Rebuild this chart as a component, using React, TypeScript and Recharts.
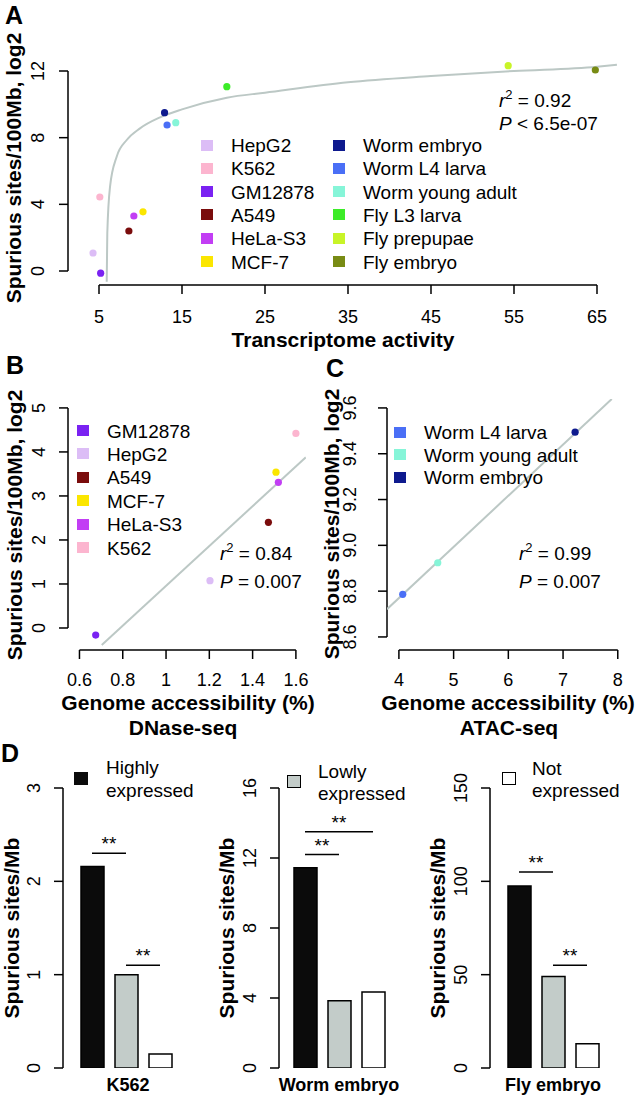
import React from 'react';
import { ComposedChart, BarChart, Bar, Scatter, Line, XAxis, YAxis, ReferenceLine, Cell } from 'recharts';

const FONT = '"Liberation Sans", Arial, Helvetica, sans-serif';
const INK = '#000';
const FIT = '#bcc8c5';

// colours per sample
const sampleColors: Record<string, string> = {
  HepG2: '#dcbdf6',
  K562: '#fcb5cf',
  GM12878: '#7a22f2',
  A549: '#7a0c0c',
  'HeLa-S3': '#c23ef4',
  'MCF-7': '#fbe600',
  'Worm embryo': '#0e1a8e',
  'Worm L4 larva': '#4a6ff6',
  'Worm young adult': '#86f5d8',
  'Fly L3 larva': '#3cec28',
  'Fly prepupae': '#c8f428',
  'Fly embryo': '#788b14',
};

// A: transcriptome activity vs spurious sites
const samplesA = ['HepG2', 'K562', 'GM12878', 'A549', 'HeLa-S3', 'MCF-7',
  'Worm embryo', 'Worm L4 larva', 'Worm young adult', 'Fly L3 larva', 'Fly prepupae', 'Fly embryo'];
const activityA = [4.28, 5.1, 5.2, 8.6, 9.2, 10.3, 12.9, 13.2, 14.25, 20.4, 54.3, 64.8];
const sitesA = [1.08, 4.44, -0.13, 2.4, 3.3, 3.55, 9.5, 8.76, 8.9, 11.06, 12.32, 12.06];
const curveActivity = [5.93, 6.0, 6.33, 7.13, 8.34, 9.94, 12.35, 15, 20.4, 25, 35, 45, 55, 65, 67.4];
const curveSites = [-0.64, 2.26, 5.06, 6.86, 7.86, 8.56, 9.22, 9.7, 10.4, 10.7, 11.33, 11.7, 12.0, 12.26, 12.38];
const ticksAx = [5, 15, 25, 35, 45, 55, 65];
const ticksAy = [0, 4, 8, 12];

// B: DNase-seq
const samplesB = ['GM12878', 'HepG2', 'A549', 'MCF-7', 'HeLa-S3', 'K562'];
const accessB = [0.675, 1.203, 1.473, 1.508, 1.519, 1.6];
const sitesB = [-0.16, 1.075, 2.4, 3.54, 3.31, 4.42];
const fitBx = [0.703, 1.646];
const fitBy = [-0.386, 3.88];
const ticksBx = [0.6, 0.8, 1, 1.2, 1.4, 1.6];
const ticksBy = [0, 1, 2, 3, 4, 5];

// C: ATAC-seq
const samplesC = ['Worm L4 larva', 'Worm young adult', 'Worm embryo'];
const accessC = [4.07, 4.71, 7.22];
const sitesC = [8.786, 8.924, 9.494];
const fitCx = [3.7825, 7.89];
const fitCy = [8.721, 9.639];
const ticksCx = [4, 5, 6, 7, 8];
const ticksCy = [8.6, 8.8, 9.0, 9.2, 9.4, 9.6];

// D: expression level groups
const levels = ['Highly', 'Lowly', 'Not'];
const levelFills = ['#0b0b0b', '#c3ccc9', '#ffffff'];
const k562Sites = [2.16, 1.0, 0.15];
const wormSites = [11.45, 3.85, 4.35];
const flySites = [97.5, 49, 13];

const pointsA = samplesA.map((name, i) => ({ name, x: activityA[i], y: sitesA[i] }));
const curveA = curveActivity.map((x, i) => ({ x, y: curveSites[i] }));
const pointsB = samplesB.map((name, i) => ({ name, x: accessB[i], y: sitesB[i] }));
const lineB = fitBx.map((x, i) => ({ x, y: fitBy[i] }));
const pointsC = samplesC.map((name, i) => ({ name, x: accessC[i], y: sitesC[i] }));
const lineC = fitCx.map((x, i) => ({ x, y: fitCy[i] }));

const AX = { stroke: INK, strokeWidth: 1.5 };

const xTick = (labelY: number) => (props: any) => (
  <text x={props.x} y={labelY} textAnchor="middle" dominantBaseline="central"
    fontSize={18} fontFamily={FONT} fill={INK}>{String(props.payload.value)}</text>
);

const yTick = (labelX: number, digits?: number) => (props: any) => {
  const v = props.payload.value;
  return (
    <text x={labelX} y={props.y} transform={`rotate(-90 ${labelX} ${props.y})`} textAnchor="middle"
      dominantBaseline="central" fontSize={18} fontFamily={FONT} fill={INK}>
      {digits !== undefined ? Number(v).toFixed(digits) : String(v)}
    </text>
  );
};

const dot = (props: any) => (
  <circle cx={props.cx} cy={props.cy} r={3.6} fill={sampleColors[props.payload.name]} />
);

function Txt({ x, y, size = 19, bold = false, anchor = 'start', rotate = false, italic = false, children }: any) {
  const tx = anchor === 'middle' ? '-50%' : anchor === 'end' ? '-100%' : '0';
  return (
    <div style={{
      position: 'absolute', left: x, top: y, whiteSpace: 'nowrap', lineHeight: 1,
      fontSize: size, fontWeight: bold ? 'bold' : 'normal', fontStyle: italic ? 'italic' : 'normal',
      fontFamily: FONT, color: INK,
      transform: `translate(${tx}, -50%)${rotate ? ' rotate(-90deg)' : ''}`,
    }}>{children}</div>
  );
}

function Swatch({ x, y, w = 12, h = 11, fill, border = false }: any) {
  return (
    <div style={{
      position: 'absolute', left: x, top: y - h / 2, width: w, height: h, background: fill,
      boxSizing: 'border-box', border: border ? '1.5px solid #000' : 'none',
    }} />
  );
}

function Stat({ x, y, r2, p, op }: any) {
  return (
    <>
      <Txt x={x} y={y}><i>r</i><span style={{ fontSize: 13, position: 'relative', top: -8 }}>2</span> = {r2}</Txt>
      <Txt x={x} y={y + (op === '<' ? 23 : 28)}><i>P</i> {op} {p}</Txt>
    </>
  );
}

function BarPanel({ left, values, yMax, ticks, padLeft, sig }: any) {
  const data = levels.map((level, i) => ({ level, value: values[i] }));
  return (
    <div style={{ position: 'absolute', left, top: 740 }}>
      <BarChart width={200} height={356} data={data} margin={{ top: 48, right: 200 - 63 - padLeft - 102, bottom: 28, left: 0 }}>
        <XAxis dataKey="level" hide padding={{ left: padLeft, right: 0 }} />
        <YAxis type="number" width={63} domain={[0, yMax]} ticks={ticks} interval={0} allowDataOverflow
          tickSize={9} axisLine={AX} tickLine={AX} tick={yTick(34)} />
        <Bar dataKey="value" barSize={23} stroke={INK} strokeWidth={1.5} isAnimationActive={false}>
          {data.map((d, i) => <Cell key={d.level} fill={levelFills[i]} />)}
        </Bar>
        {sig.map((s: any, i: number) => (
          <ReferenceLine key={i} segment={[{ x: s.from, y: s.y }, { x: s.to, y: s.y }]} stroke={INK} strokeWidth={1.5}
            ifOverflow="visible"
            label={{ value: '**', position: 'top', offset: 3, fontSize: 19, fill: INK, fontFamily: FONT }} />
        ))}
      </BarChart>
    </div>
  );
}

export default function App() {
  return (
    <div style={{ position: 'absolute', left: 0, top: 0, width: 638, height: 1096, background: '#fff', fontFamily: FONT }}>
      {/* Panel A */}
      <div style={{ position: 'absolute', left: 0, top: 0 }}>
        <ComposedChart width={638} height={360} margin={{ top: 54, right: 21, bottom: 0, left: 0 }}>
          <XAxis type="number" dataKey="x" domain={[1.265, 67.41]} ticks={ticksAx} interval={0} allowDataOverflow
            height={75} tickSize={9} axisLine={false} tickLine={AX} tick={xTick(317)} />
          <YAxis type="number" dataKey="y" domain={[-0.84, 13.02]} ticks={ticksAy} interval={0} allowDataOverflow
            width={68} tickSize={9} axisLine={false} tickLine={AX} tick={yTick(38)} />
          <ReferenceLine segment={[{ x: 5, y: -0.84 }, { x: 65, y: -0.84 }]} stroke={INK} strokeWidth={1.5} ifOverflow="visible" />
          <ReferenceLine segment={[{ x: 1.265, y: 0 }, { x: 1.265, y: 12 }]} stroke={INK} strokeWidth={1.5} ifOverflow="visible" />
          <Line data={curveA} dataKey="y" type="monotone" stroke={FIT} strokeWidth={2} dot={false} isAnimationActive={false} />
          <Scatter data={pointsA} shape={dot} isAnimationActive={false} />
        </ComposedChart>
      </div>
      <Txt x={14} y={15} size={25} bold anchor="middle">A</Txt>
      <Txt x={13} y={168} size={21} bold anchor="middle" rotate>Spurious sites/100Mb, log2</Txt>
      <Txt x={343} y={339} size={21} bold anchor="middle">Transcriptome activity</Txt>
      {samplesA.map((name, i) => {
        const col = i < 6 ? 0 : 1;
        const row = i % 6;
        const y = 145 + row * 23.3;
        return (
          <React.Fragment key={name}>
            <Swatch x={col ? 333 : 201} y={y} fill={sampleColors[name]} />
            <Txt x={col ? 363 : 231} y={y}>{name}</Txt>
          </React.Fragment>
        );
      })}
      <Stat x={499} y={100} r2="0.92" p="6.5e-07" op="<" />

      {/* Panel B */}
      <div style={{ position: 'absolute', left: 0, top: 370 }}>
        <ComposedChart width={318} height={330} margin={{ top: 30, right: 12, bottom: 0, left: 0 }}>
          <XAxis type="number" dataKey="x" domain={[0.547, 1.6467]} ticks={ticksBx} interval={0} allowDataOverflow
            height={50} tickSize={9} axisLine={false} tickLine={AX} tick={xTick(310)} />
          <YAxis type="number" dataKey="y" domain={[-0.5, 5.18]} ticks={ticksBy} interval={0} allowDataOverflow
            width={68} tickSize={9} axisLine={false} tickLine={AX} tick={yTick(39)} />
          <ReferenceLine segment={[{ x: 0.6, y: -0.5 }, { x: 1.6, y: -0.5 }]} stroke={INK} strokeWidth={1.5} ifOverflow="visible" />
          <ReferenceLine segment={[{ x: 0.547, y: 0 }, { x: 0.547, y: 5 }]} stroke={INK} strokeWidth={1.5} ifOverflow="visible" />
          <Line data={lineB} dataKey="y" type="linear" stroke={FIT} strokeWidth={2} dot={false} isAnimationActive={false} />
          <Scatter data={pointsB} shape={dot} isAnimationActive={false} />
        </ComposedChart>
      </div>
      <Txt x={15} y={365} size={25} bold anchor="middle">B</Txt>
      <Txt x={14} y={525} size={21} bold anchor="middle" rotate>Spurious sites/100Mb, log2</Txt>
      <Txt x={188} y={702} size={21} bold anchor="middle">Genome accessibility (%)</Txt>
      <Txt x={183} y={727} size={21} bold anchor="middle">DNase-seq</Txt>
      {samplesB.map((name, i) => (
        <React.Fragment key={name}>
          <Swatch x={77} y={430.5 + i * 23.4} fill={sampleColors[name]} />
          <Txt x={107} y={430.5 + i * 23.4}>{name}</Txt>
        </React.Fragment>
      ))}
      <Stat x={220} y={553} r2="0.84" p="0.007" op="=" />

      {/* Panel C */}
      <div style={{ position: 'absolute', left: 318, top: 370 }}>
        <ComposedChart width={320} height={330} margin={{ top: 29, right: 13, bottom: 0, left: 0 }}>
          <XAxis type="number" dataKey="x" domain={[3.7825, 8.132]} ticks={ticksCx} interval={0} allowDataOverflow
            height={50} tickSize={9} axisLine={false} tickLine={AX} tick={xTick(310)} />
          <YAxis type="number" dataKey="y" domain={[8.543, 9.639]} ticks={ticksCy} interval={0} allowDataOverflow
            width={69} tickSize={9} axisLine={false} tickLine={AX} tick={yTick(32, 1)} />
          <ReferenceLine segment={[{ x: 4, y: 8.543 }, { x: 8, y: 8.543 }]} stroke={INK} strokeWidth={1.5} ifOverflow="visible" />
          <ReferenceLine segment={[{ x: 3.7825, y: 8.6 }, { x: 3.7825, y: 9.6 }]} stroke={INK} strokeWidth={1.5} ifOverflow="visible" />
          <Line data={lineC} dataKey="y" type="linear" stroke={FIT} strokeWidth={2} dot={false} isAnimationActive={false} />
          <Scatter data={pointsC} shape={dot} isAnimationActive={false} />
        </ComposedChart>
      </div>
      <Txt x={335} y={368} size={25} bold anchor="middle">C</Txt>
      <Txt x={331} y={524} size={21} bold anchor="middle" rotate>Spurious sites/100Mb, log2</Txt>
      <Txt x={508} y={702} size={21} bold anchor="middle">Genome accessibility (%)</Txt>
      <Txt x={509} y={727} size={21} bold anchor="middle">ATAC-seq</Txt>
      {samplesC.map((name, i) => (
        <React.Fragment key={name}>
          <Swatch x={394} y={432.3 + i * 22.5} fill={sampleColors[name]} />
          <Txt x={424} y={432.3 + i * 22.5}>{name}</Txt>
        </React.Fragment>
      ))}
      <Stat x={519} y={553} r2="0.99" p="0.007" op="=" />

      {/* Panel D */}
      <Txt x={10} y={753} size={25} bold anchor="middle">D</Txt>
      <BarPanel left={0} values={k562Sites} yMax={3} ticks={[0, 1, 2, 3]} padLeft={12}
        sig={[{ from: 'Highly', to: 'Lowly', y: 2.3 }, { from: 'Lowly', to: 'Not', y: 1.1 }]} />
      <BarPanel left={216} values={wormSites} yMax={16} ticks={[0, 4, 8, 12, 16]} padLeft={9}
        sig={[{ from: 'Highly', to: 'Lowly', y: 12.2 }, { from: 'Highly', to: 'Not', y: 13.5 }]} />
      <BarPanel left={427} values={flySites} yMax={150} ticks={[0, 50, 100, 150]} padLeft={12}
        sig={[{ from: 'Highly', to: 'Lowly', y: 105 }, { from: 'Lowly', to: 'Not', y: 55 }]} />

      <Txt x={11} y={928} size={21} bold anchor="middle" rotate>Spurious sites/Mb</Txt>
      <Txt x={226} y={928} size={21} bold anchor="middle" rotate>Spurious sites/Mb</Txt>
      <Txt x={437} y={928} size={21} bold anchor="middle" rotate>Spurious sites/Mb</Txt>
      <Txt x={128} y={1085} size={18} bold anchor="middle">K562</Txt>
      <Txt x={339} y={1085} size={18} bold anchor="middle">Worm embryo</Txt>
      <Txt x={553} y={1085} size={18} bold anchor="middle">Fly embryo</Txt>

      <Swatch x={74} y={778} w={14} h={13} fill={levelFills[0]} />
      <Txt x={106} y={767}>Highly</Txt>
      <Txt x={106} y={790}>expressed</Txt>
      <Swatch x={287} y={781} w={14} h={13} fill={levelFills[1]} border />
      <Txt x={318} y={771}>Lowly</Txt>
      <Txt x={318} y={793}>expressed</Txt>
      <Swatch x={502} y={778} w={14} h={13} fill={levelFills[2]} border />
      <Txt x={532} y={768}>Not</Txt>
      <Txt x={532} y={790}>expressed</Txt>
    </div>
  );
}
